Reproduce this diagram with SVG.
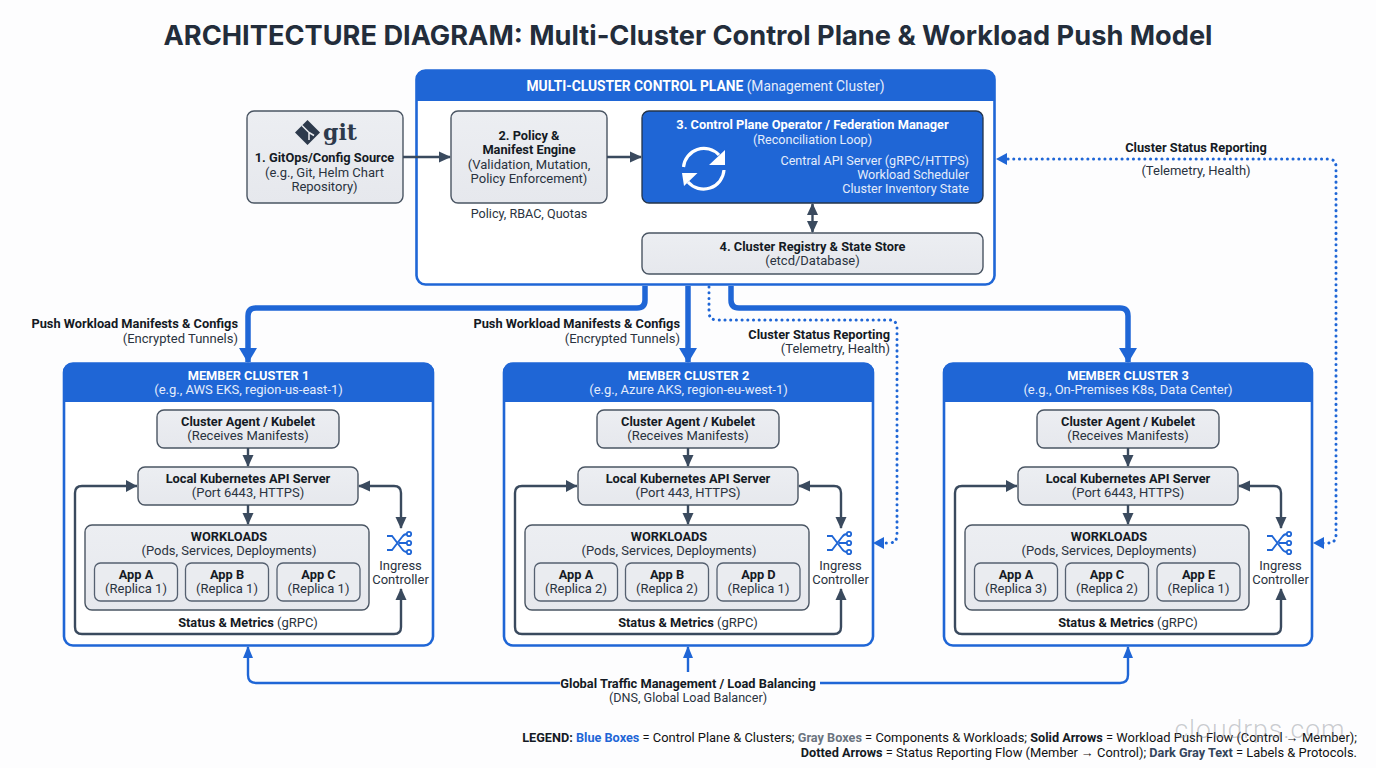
<svg xmlns="http://www.w3.org/2000/svg" width="1376" height="768" viewBox="0 0 1376 768">
<style>
text{font-family:Roboto,"Liberation Sans",sans-serif;font-size:13px;fill:#2a3340;text-anchor:middle}
.b{font-weight:700;fill:#141a24;font-size:12.8px}
.w{fill:#e4ecfb}
.wb{font-weight:700;fill:#fff;font-size:12.8px}
.l{text-anchor:start}
.r{text-anchor:end}
.s{font-size:12.6px}
.lg{font-size:12.9px;fill:#111}
.lg .b,.lg .c{font-size:12.7px;font-weight:700}
.gray{fill:url(#g);stroke:#4a5563;stroke-width:1.4}
.inner{fill:#eaecf0;stroke:#556070;stroke-width:1.3}
.frame{fill:#fff;stroke:#1f66d6;stroke-width:2.6}
.head{fill:#1f66d6}
.d{fill:none;stroke:#3a4a5e;stroke-width:2.4}
.thick{fill:none;stroke:#1f66d6;stroke-width:5.5}
.blue{fill:none;stroke:#1f66d6;stroke-width:2.4}
.dot{fill:none;stroke:#1f66d6;stroke-width:3;stroke-dasharray:0.1 5.6;stroke-linecap:round}
.ic{fill:none;stroke:#1f66d6;stroke-width:1.8}
</style>
<defs>
<linearGradient id="g" x1="0" y1="0" x2="0" y2="1"><stop offset="0" stop-color="#eceef2"/><stop offset="1" stop-color="#e6e8ed"/></linearGradient>
<marker id="ad" markerUnits="userSpaceOnUse" markerWidth="14" markerHeight="14" refX="11" refY="7" orient="auto-start-reverse"><path d="M0 1.500L12 7L0 12.500z" fill="#3a4a5e"/></marker>
<marker id="ab" markerUnits="userSpaceOnUse" markerWidth="14" markerHeight="14" refX="11" refY="7" orient="auto-start-reverse"><path d="M0 2L12 7L0 12z" fill="#1f66d6"/></marker>
<marker id="abig" markerUnits="userSpaceOnUse" markerWidth="20" markerHeight="20" refX="14" refY="10" orient="auto"><path d="M0 1L15 10L0 19z" fill="#1f66d6"/></marker>
<g id="ingress-icon">
<path class="ic" d="M-13 -7H-8L2 6Q4 9 7 9M-13 7H-8L2 -6Q4 -9 7 -9M-1 0H7"/>
<circle class="ic" cx="9" cy="-9" r="2.200"/><circle class="ic" cx="9" cy="0" r="2.200"/><circle class="ic" cx="9" cy="9" r="2.200"/>
</g>
</defs>
<rect width="1376" height="768" fill="#fdfdfe"/>
<text x="688" y="45" style="font-family:Inter,'Open Sans',sans-serif;font-size:27px;font-weight:700;fill:#232d3b" textLength="1049" lengthAdjust="spacingAndGlyphs">ARCHITECTURE DIAGRAM: Multi-Cluster Control Plane &amp; Workload Push Model</text>

<g id="control-plane">
<rect class="frame" x="416.500" y="70.500" width="578" height="214" rx="9"/>
<path class="head" d="M416 101V79a9 9 0 0 1 9-9H986a9 9 0 0 1 9 9V101z"/>
<text x="705.500" y="91" style="font-size:13.800px" class="w"><tspan class="wb" style="font-size:13.800px">MULTI-CLUSTER CONTROL PLANE</tspan> (Management Cluster)</text>
</g>
<g id="gitops-source">
<rect class="gray" x="247" y="111" width="156" height="92" rx="7"/>
<path d="M307.500 120L320 132.500L307.500 145L295 132.500z" fill="#2d3a4c"/>
<path d="M302 125.500L309 132.500V140M309 132.500L314 135.500" stroke="#eaecf0" stroke-width="1.500" fill="none"/>
<text x="340" y="140" style="font-family:'DejaVu Serif','Liberation Serif',serif;font-size:22px;font-weight:700;fill:#2d3a4c">git</text>
<text x="324.500" y="162" class="b">1. GitOps/Config Source</text>
<text x="324.500" y="177">(e.g., Git, Helm Chart</text>
<text x="324.500" y="191">Repository)</text>
</g>
<g id="policy-engine">
<rect class="gray" x="451" y="111" width="156" height="92" rx="7"/>
<text x="529" y="140" class="b">2. Policy &amp;</text>
<text x="529" y="154" class="b">Manifest Engine</text>
<text x="529" y="169">(Validation, Mutation,</text>
<text x="529" y="183">Policy Enforcement)</text>
<text x="529" y="218" class="s">Policy, RBAC, Quotas</text>
</g>
<g id="operator">
<rect x="642" y="111" width="341" height="92" rx="7" fill="#1f66d6" stroke="#24344a" stroke-width="1.300"/>
<text x="812.500" y="129" class="wb">3. Control Plane Operator / Federation Manager</text>
<text x="812.500" y="144" class="w s">(Reconciliation Loop)</text>
<text x="969" y="165" class="w r s">Central API Server (gRPC/HTTPS)</text>
<text x="969" y="179" class="w r s">Workload Scheduler</text>
<text x="969" y="193" class="w r s">Cluster Inventory State</text>
<path d="M683.500 167A20.500 20.500 0 0 1 719 155M724 170A20.500 20.500 0 0 1 688 182" fill="none" stroke="#fff" stroke-width="3.200"/>
<path d="M725 150V165H709zM682 173H697.500L684 186z" fill="#fff"/>
</g>
<g id="registry">
<rect class="gray" x="642" y="233" width="341" height="41" rx="7"/>
<text x="812.500" y="251" class="b">4. Cluster Registry &amp; State Store</text>
<text x="812.500" y="265">(etcd/Database)</text>
</g>

<g id="cluster-1">
<rect class="frame" x="64" y="363.500" width="369" height="282" rx="9"/>
<path class="head" d="M63 402V372a9 9 0 0 1 9-9H425a9 9 0 0 1 9 9V402z"/>
<text x="248.500" y="379.500" class="wb">MEMBER CLUSTER 1</text>
<text x="248.500" y="394" class="w">(e.g., AWS EKS, region-us-east-1)</text>
<rect class="gray" x="157" y="410" width="182" height="38" rx="7"/>
<text x="248" y="426" class="b">Cluster Agent / Kubelet</text>
<text x="248" y="440">(Receives Manifests)</text>
<rect class="gray" x="138" y="467" width="220" height="38" rx="7"/>
<text x="248" y="483" class="b">Local Kubernetes API Server</text>
<text x="248" y="497">(Port 6443, HTTPS)</text>
<rect class="gray" x="85" y="525" width="284" height="85" rx="7"/>
<text x="229" y="541" class="b">WORKLOADS</text>
<text x="229" y="555">(Pods, Services, Deployments)</text>
<rect class="inner" x="94.500" y="563" width="83" height="38" rx="6"/>
<text x="136" y="579" class="b">App A</text><text x="136" y="593">(Replica 1)</text>
<rect class="inner" x="185.500" y="563" width="83" height="38" rx="6"/>
<text x="227" y="579" class="b">App B</text><text x="227" y="593">(Replica 1)</text>
<rect class="inner" x="277" y="563" width="83" height="38" rx="6"/>
<text x="318.500" y="579" class="b">App C</text><text x="318.500" y="593">(Replica 1)</text>
<use href="#ingress-icon" x="400" y="543"/>
<text x="400.500" y="570">Ingress</text><text x="400.500" y="584">Controller</text>
<text x="248" y="627"><tspan class="b">Status &amp; Metrics</tspan> (gRPC)</text>
</g>

<g id="cluster-2">
<rect class="frame" x="504" y="363.500" width="369" height="282" rx="9"/>
<path class="head" d="M503 402V372a9 9 0 0 1 9-9H865a9 9 0 0 1 9 9V402z"/>
<text x="688.500" y="379.500" class="wb">MEMBER CLUSTER 2</text>
<text x="688.500" y="394" class="w">(e.g., Azure AKS, region-eu-west-1)</text>
<rect class="gray" x="597" y="410" width="182" height="38" rx="7"/>
<text x="688" y="426" class="b">Cluster Agent / Kubelet</text>
<text x="688" y="440">(Receives Manifests)</text>
<rect class="gray" x="578" y="467" width="220" height="38" rx="7"/>
<text x="688" y="483" class="b">Local Kubernetes API Server</text>
<text x="688" y="497">(Port 443, HTTPS)</text>
<rect class="gray" x="525" y="525" width="284" height="85" rx="7"/>
<text x="669" y="541" class="b">WORKLOADS</text>
<text x="669" y="555">(Pods, Services, Deployments)</text>
<rect class="inner" x="534.500" y="563" width="83" height="38" rx="6"/>
<text x="576" y="579" class="b">App A</text><text x="576" y="593">(Replica 2)</text>
<rect class="inner" x="625.500" y="563" width="83" height="38" rx="6"/>
<text x="667" y="579" class="b">App B</text><text x="667" y="593">(Replica 2)</text>
<rect class="inner" x="717" y="563" width="83" height="38" rx="6"/>
<text x="758.500" y="579" class="b">App D</text><text x="758.500" y="593">(Replica 1)</text>
<use href="#ingress-icon" x="840" y="543"/>
<text x="840.500" y="570">Ingress</text><text x="840.500" y="584">Controller</text>
<text x="688" y="627"><tspan class="b">Status &amp; Metrics</tspan> (gRPC)</text>
</g>

<g id="cluster-3">
<rect class="frame" x="944" y="363.500" width="368" height="282" rx="9"/>
<path class="head" d="M943 402V372a9 9 0 0 1 9-9H1304a9 9 0 0 1 9 9V402z"/>
<text x="1128" y="379.500" class="wb">MEMBER CLUSTER 3</text>
<text x="1128" y="394" class="w">(e.g., On-Premises K8s, Data Center)</text>
<rect class="gray" x="1037" y="410" width="182" height="38" rx="7"/>
<text x="1128" y="426" class="b">Cluster Agent / Kubelet</text>
<text x="1128" y="440">(Receives Manifests)</text>
<rect class="gray" x="1018" y="467" width="220" height="38" rx="7"/>
<text x="1128" y="483" class="b">Local Kubernetes API Server</text>
<text x="1128" y="497">(Port 6443, HTTPS)</text>
<rect class="gray" x="965" y="525" width="284" height="85" rx="7"/>
<text x="1109" y="541" class="b">WORKLOADS</text>
<text x="1109" y="555">(Pods, Services, Deployments)</text>
<rect class="inner" x="974.500" y="563" width="83" height="38" rx="6"/>
<text x="1016" y="579" class="b">App A</text><text x="1016" y="593">(Replica 3)</text>
<rect class="inner" x="1065.500" y="563" width="83" height="38" rx="6"/>
<text x="1107" y="579" class="b">App C</text><text x="1107" y="593">(Replica 2)</text>
<rect class="inner" x="1157" y="563" width="83" height="38" rx="6"/>
<text x="1198.500" y="579" class="b">App E</text><text x="1198.500" y="593">(Replica 1)</text>
<use href="#ingress-icon" x="1280" y="543"/>
<text x="1280.500" y="570">Ingress</text><text x="1280.500" y="584">Controller</text>
<text x="1128" y="627"><tspan class="b">Status &amp; Metrics</tspan> (gRPC)</text>
</g>

<g id="connectors">
<path class="d" d="M403 157H450" marker-end="url(#ad)"/>
<path class="d" d="M607 157H641" marker-end="url(#ad)"/>
<path class="d" d="M812.500 204V232" marker-start="url(#ad)" marker-end="url(#ad)"/>

<path class="thick" d="M645 286V300Q645 308 637 308H256Q248 308 248 316V362" marker-end="url(#abig)"/>
<path class="thick" d="M688 286V362" marker-end="url(#abig)"/>
<path class="thick" d="M731 286V300Q731 308 739 308H1120Q1128 308 1128 316V362" marker-end="url(#abig)"/>
<path class="dot" d="M709 287V312Q709 320 717 320H889Q897 320 897 328V535Q897 543 889 543H880"/>
<path d="M873 543L884 537V549z" fill="#1f66d6"/>
<path class="dot" d="M1008 159H1328Q1336 159 1336 167V535Q1336 543 1328 543H1320"/>
<path d="M996 159L1007 153V165z" fill="#1f66d6"/>
<path d="M1313 543L1324 537V549z" fill="#1f66d6"/>

<path class="d" d="M248 448V466" marker-end="url(#ad)"/>
<path class="d" d="M248 505V524" marker-end="url(#ad)"/>
<path class="d" d="M137 486H82Q75 486 75 493V627Q75 634 82 634H394Q401 634 401 627V589" marker-end="url(#ad)"/>
<path d="M137 486L126 480V492z" fill="#3a4a5e"/>
<path class="d" d="M359 486H394Q401 486 401 493V528" marker-start="url(#ad)" marker-end="url(#ad)"/>

<path class="d" d="M688 448V466" marker-end="url(#ad)"/>
<path class="d" d="M688 505V524" marker-end="url(#ad)"/>
<path class="d" d="M577 486H522Q515 486 515 493V627Q515 634 522 634H834Q841 634 841 627V589" marker-end="url(#ad)"/>
<path d="M577 486L566 480V492z" fill="#3a4a5e"/>
<path class="d" d="M799 486H834Q841 486 841 493V528" marker-start="url(#ad)" marker-end="url(#ad)"/>

<path class="d" d="M1128 448V466" marker-end="url(#ad)"/>
<path class="d" d="M1128 505V524" marker-end="url(#ad)"/>
<path class="d" d="M1017 486H962Q955 486 955 493V627Q955 634 962 634H1274Q1281 634 1281 627V589" marker-end="url(#ad)"/>
<path d="M1017 486L1006 480V492z" fill="#3a4a5e"/>
<path class="d" d="M1239 486H1274Q1281 486 1281 493V528" marker-start="url(#ad)" marker-end="url(#ad)"/>

<path class="blue" d="M560 683H256Q248 683 248 675V647" marker-end="url(#ab)"/>
<path class="blue" d="M688 672V647" marker-end="url(#ab)"/>
<path class="blue" d="M820 683H1120Q1128 683 1128 675V647" marker-end="url(#ab)"/>
</g>

<g id="labels">
<text x="238" y="328" class="b r">Push Workload Manifests &amp; Configs</text>
<text x="238" y="343" class="r">(Encrypted Tunnels)</text>
<text x="680" y="328" class="b r">Push Workload Manifests &amp; Configs</text>
<text x="680" y="343" class="r">(Encrypted Tunnels)</text>
<text x="890" y="339" class="b r">Cluster Status Reporting</text>
<text x="890" y="353" class="r">(Telemetry, Health)</text>
<text x="1196" y="152" class="b">Cluster Status Reporting</text>
<text x="1196" y="175">(Telemetry, Health)</text>
<text x="688" y="688" class="b">Global Traffic Management / Load Balancing</text>
<text x="688" y="702" class="s">(DNS, Global Load Balancer)</text>
<text x="1357" y="742" class="r lg"><tspan class="b">LEGEND:</tspan> <tspan class="c" style="fill:#1f66d6">Blue Boxes</tspan> = Control Plane &amp; Clusters; <tspan class="c" style="fill:#6b7480">Gray Boxes</tspan> = Components &amp; Workloads; <tspan class="b">Solid Arrows</tspan> = Workload Push Flow (Control → Member);</text>
<text x="1357" y="757" class="r lg"><tspan class="b">Dotted Arrows</tspan> = Status Reporting Flow (Member → Control); <tspan class="c" style="fill:#34465c">Dark Gray Text</tspan> = Labels &amp; Protocols.</text>
<text x="1260" y="738" style="font-size:26.500px;font-weight:300;fill:#8a8f96;fill-opacity:.45;letter-spacing:1px">cloudrps.com</text>
</g>
</svg>
